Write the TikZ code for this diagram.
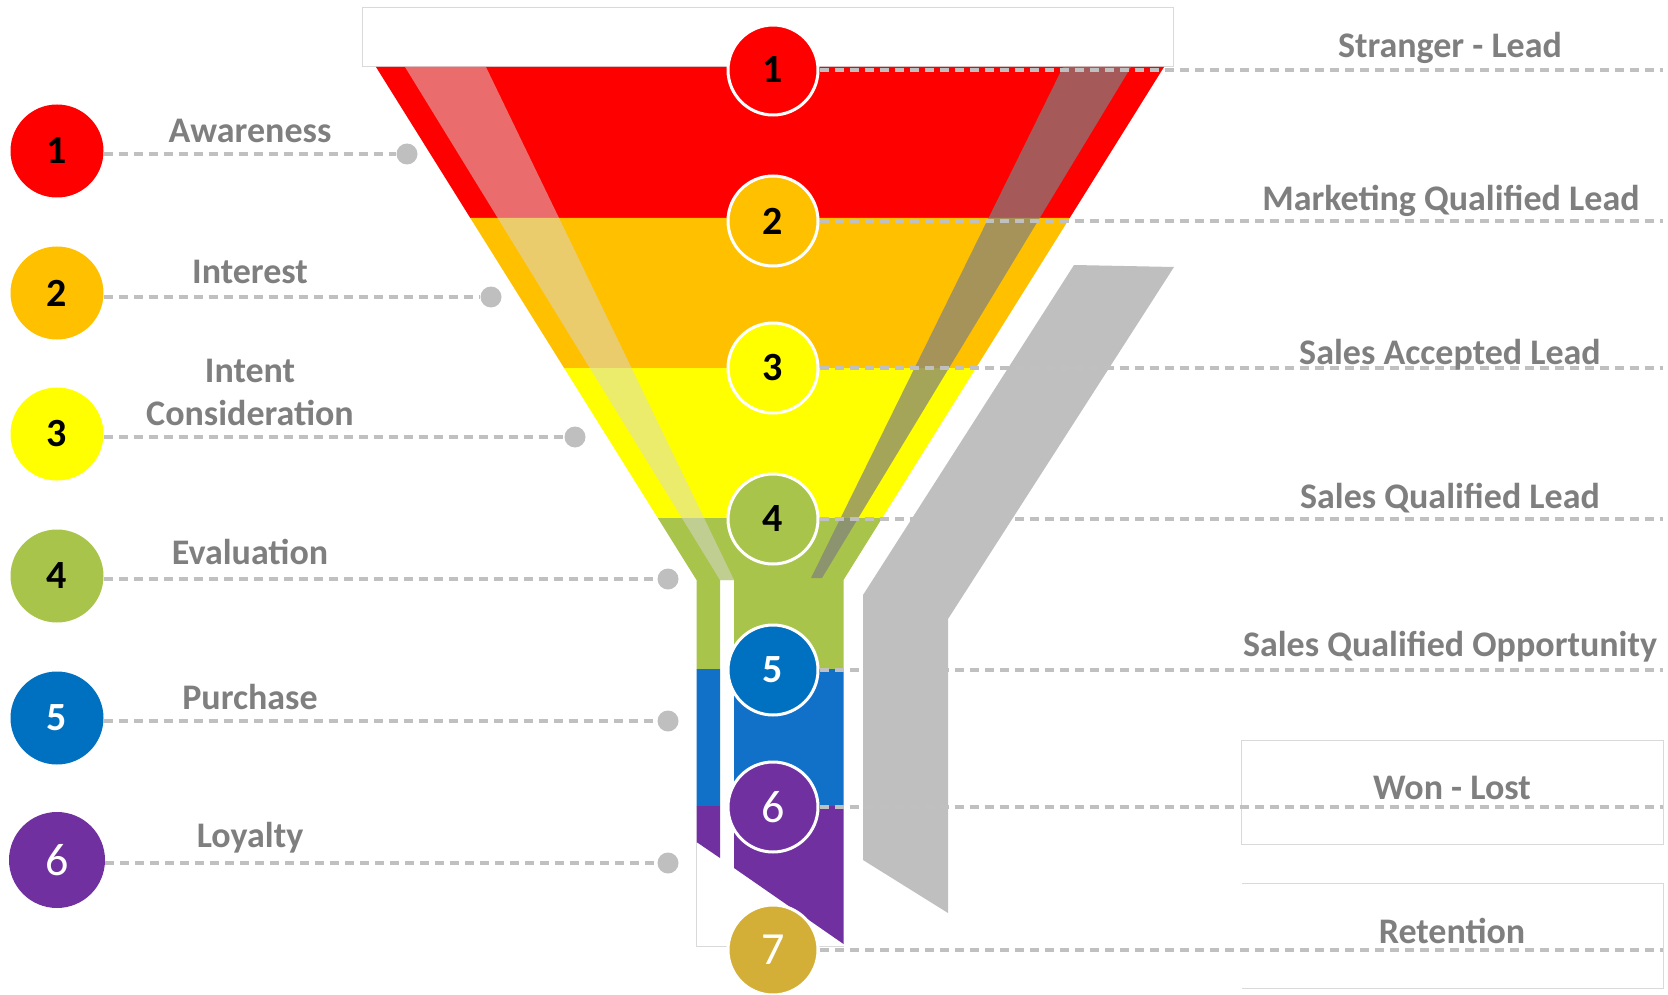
\documentclass[tikz,border=0pt]{standalone}
\usepackage{fontspec}
\setmainfont{Carlito}

\definecolor{fred}{RGB}{255,0,0}
\definecolor{forange}{RGB}{255,192,0}
\definecolor{fyellow}{RGB}{255,255,0}
\definecolor{fgreen}{RGB}{169,196,74}
\definecolor{fblue}{RGB}{0,112,192}
\definecolor{fbandblue}{RGB}{17,112,200}
\definecolor{fpurple}{RGB}{112,48,160}
\definecolor{fgold}{RGB}{212,175,55}
\definecolor{labelgray}{RGB}{127,127,127}
\definecolor{linegray}{RGB}{192,192,192}
\definecolor{bargray}{RGB}{191,191,191}
\definecolor{boxgray}{RGB}{217,217,217}

\tikzset{
  stage/.style={circle, inner sep=0pt, minimum size=93pt, font=\fontsize{40}{40}\selectfont\bfseries},
  ring/.style={stage, draw=white, line width=3pt, minimum size=90pt},
  bignum/.style={font=\fontsize{46}{46}\selectfont, text=white},
  stagetext/.style={anchor=base, text=labelgray, font=\fontsize{36}{40}\selectfont\bfseries},
  dashline/.style={color=linegray, line width=3.5pt, dash pattern=on 9pt off 6pt},
  knob/.style={circle, fill=bargray, minimum size=21pt, inner sep=0pt},
  thinbox/.style={draw=boxgray, line width=1pt},
}

\begin{document}
\begin{tikzpicture}[x=1pt, y=-1pt]
    \useasboundingbox (0,0) rectangle (1668,995);

    % frames behind the funnel and round the last two stages
    \draw[thinbox, fill=white] (362,8) rectangle (1173,67);
    \draw[thinbox] (696,842) -- (696,946) -- (843.5,946);
    \draw[thinbox] (1241,740) rectangle (1663,844);
    \draw[thinbox] (1242,883) -- (1663,883) -- (1663,988) -- (1242,988);

    % funnel
    \fill[fred] (376,67) -- (1164,67) -- (1069.7,218) -- (470.3,218) -- cycle;
    \fill[forange] (470.3,218) -- (1069.7,218) -- (975.9,368) -- (564.1,368) -- cycle;
    \fill[fyellow] (564.1,368) -- (975.9,368) -- (882.2,518) -- (657.8,518) -- cycle;
    \fill[fgreen] (657.8,518) -- (882.2,518) -- (843.5,580) -- (843.5,669) -- (734,669) -- (734,580)
        -- (720,580) -- (720,669) -- (696.5,669) -- (696.5,580) -- cycle;
    \fill[fbandblue] (696.5,669) rectangle (720,806) (734,669) rectangle (843.5,806);
    \fill[fpurple] (696.5,806) -- (720,806) -- (720,858) -- (696.5,842) -- cycle
        (734,806) -- (843.5,806) -- (843.5,944) -- (734,868) -- cycle;
    \fill[boxgray, opacity=0.5] (405,67) -- (486,67) -- (734,580) -- (720,580) -- cycle;
    \fill[black!50, opacity=0.7] (1063,67) -- (1131,67) -- (822,578) -- (811,578) -- cycle;

    \draw node[ring, fill=fred] (f1) at (773,70) {1};
    \draw node[ring, fill=forange] (f2) at (773,221) {2};
    \draw node[ring, fill=fyellow] (f3) at (773,368) {3};
    \draw node[ring, fill=fgreen] (f4) at (773,519) {4};
    \draw node[ring, fill=fblue, text=white] (f5) at (773,670) {5};
    \draw node[ring, fill=fpurple, bignum] (f6) at (773,807) {6};
    \draw node[ring, fill=fgold, bignum] (f7) at (773,950) {7};

    \coordinate (e1) at (1663,70);
    \coordinate (e2) at (1663,221);
    \coordinate (e3) at (1663,368);
    \coordinate (e4) at (1663,519);
    \coordinate (e5) at (1663,670);
    \coordinate (e6) at (1663,807);
    \coordinate (e7) at (1663,950);

    \path[dashline] (f4) edge (e4)
        (f5) edge (e5);

    % side bar
    \fill[bargray] (1074,265) -- (1174,267) -- (948,619) -- (948,913) -- (863,860) -- (863,595) -- cycle;

    \path[dashline] (f1) edge (e1)
        (f2) edge (e2)
        (f3) edge (e3)
        (f6) edge (e6)
        (f7) edge (e7);

    \node[stagetext] (r1) at (1450,58) {Stranger - Lead};
    \node[stagetext] (r2) at (1451,211) {Marketing Qualified Lead};
    \node[stagetext] (r3) at (1450,364) {Sales Accepted Lead};
    \node[stagetext] (r4) at (1450,508) {Sales Qualified Lead};
    \node[stagetext] (r5) at (1450,656) {Sales Qualified Opportunity};
    \node[stagetext] (r6) at (1452,799) {Won - Lost};
    \node[stagetext] (r7) at (1452,943) {Retention};

    % left column
    \draw node[stage, fill=fred] (l1) at (57,151) {1};
    \draw node[stage, fill=forange] (l2) at (57,293) {2};
    \draw node[stage, fill=fyellow] (l3) at (57,434) {3};
    \draw node[stage, fill=fgreen] (l4) at (57,576) {4};
    \draw node[stage, fill=fblue, text=white] (l5) at (57,718) {5};
    \draw node[stage, fill=fpurple, bignum, minimum size=96pt] (l6) at (57,860) {6};

    \node[knob] (d1) at (407,154) {};
    \node[knob] (d2) at (491,297) {};
    \node[knob] (d3) at (575,437) {};
    \node[knob] (d4) at (668,579) {};
    \node[knob] (d5) at (668,721) {};
    \node[knob] (d6) at (668,863) {};

    \path[dashline] (l1.east |- d1) edge (d1)
        (l2.east |- d2) edge (d2)
        (l3.east |- d3) edge (d3)
        (l4.east |- d4) edge (d4)
        (l5.east |- d5) edge (d5)
        (l6.east |- d6) edge (d6);

    \node[stagetext] (t1) at (250,143) {Awareness};
    \node[stagetext] (t2) at (250,283) {Interest};
    \node[stagetext] (t3) at (250,382) {Intent};
    \node[stagetext] (t3b) at (250,425) {Consideration};
    \node[stagetext] (t4) at (250,564) {Evaluation};
    \node[stagetext] (t5) at (250,709) {Purchase};
    \node[stagetext] (t6) at (250,847) {Loyalty};
\end{tikzpicture}
\end{document}
